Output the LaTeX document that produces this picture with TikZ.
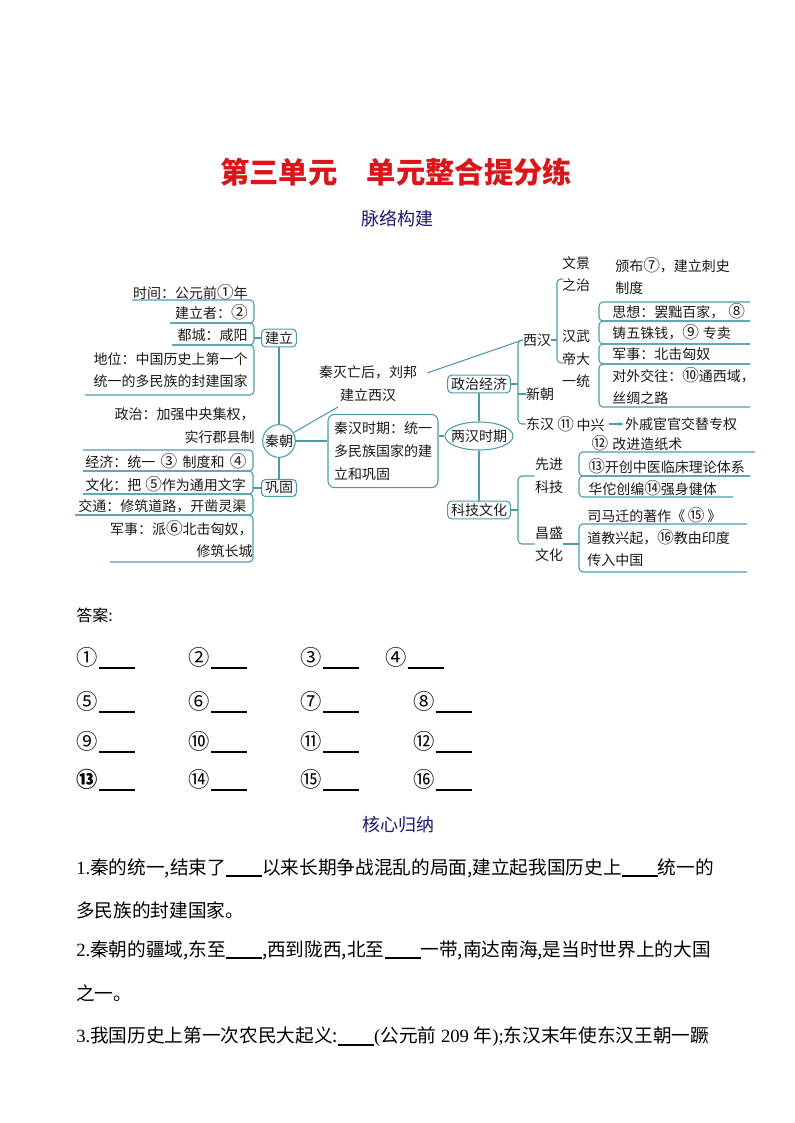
\documentclass[tikz,border=0pt]{standalone}
\usepackage{fontspec}
\setmainfont{Liberation Serif}
\newfontfamily\cjk{Noto Sans CJK SC}
\usetikzlibrary{shapes.geometric,arrows.meta,calc}
\definecolor{tealc}{RGB}{74,156,170}
\definecolor{titlered}{RGB}{218,22,26}
\definecolor{navyc}{RGB}{25,25,110}
\newcommand\mmf{\cjk\fontsize{10.5}{17}\selectfont}
\newcommand\bodyf{\cjk\fontsize{14}{18}\selectfont}
\newcommand\cn[1]{{\fontsize{12.5}{17}\selectfont #1}}
\newcommand\ca[1]{{\fontsize{16}{18}\selectfont #1}}
\newcommand\blank{\rule[-2pt]{27pt}{1pt}}
\newcommand\ansline{\hspace{1pt}\rule[-2.5pt]{27pt}{1.4pt}}
\begin{document}
\begin{tikzpicture}[x=0.75pt,y=-0.75pt,
  mm/.style={font=\mmf, inner sep=0pt, text=black!90},
  ln/.style={draw=tealc, line width=0.8pt},
  rc/.style={ln, rounded corners=3pt},
  bx/.style={mm, draw=tealc, line width=0.8pt, rounded corners=3pt, inner xsep=2.5pt, inner ysep=1.8pt, fill=white},
  ans/.style={font=\cjk\fontsize{12}{14}\selectfont, anchor=west, inner sep=0pt},
  body/.style={font=\bodyf, anchor=west, inner sep=0pt},
  head/.style={font=\cjk\fontsize{13.5}{16}\selectfont, text=navyc, inner sep=0pt},
]
\useasboundingbox (0,0) rectangle (794,1123);

% titles
\node[font=\cjk\bfseries\fontsize{22}{26}\selectfont, text=titlered, inner sep=0pt] (title) at (396,172) {第三单元\quad 单元整合提分练};
\node[head] (mlgj) at (397,219) {脉络构建};

% ---------- left top group ----------
\draw[rc] (132,300) -- (254,300) -- (254,323) -- (170,323);
\draw[rc] (170,323) -- (254,323) -- (254,345) -- (172,345);
\draw[rc] (172,345) -- (254,345) -- (254,395) -- (85,395);
\node[mm, anchor=east] (t1) at (248,292) {时间：公元前\cn{①}年};
\node[mm, anchor=east] (t2) at (248,312) {建立者：\cn{②}};
\node[mm, anchor=east] (t3) at (248,335) {都城：咸阳};
\node[mm, anchor=east, align=left] (t4) at (248,370) {地位：中国历史上第一个\\统一的多民族的封建国家};

% ---------- left bottom group ----------
\draw[rc] (83,450) -- (253,450) -- (253,471) -- (83,471);
\draw[rc] (83,471) -- (253,471) -- (253,494) -- (83,494);
\draw[rc] (83,494) -- (253,494) -- (253,515) -- (75,515);
\draw[rc] (75,515) -- (253,515) -- (253,562) -- (110,562);
\node[mm, anchor=east, align=right] (zz0) at (255,426) {政治：加强中央集权，\\实行郡县制\hspace{9pt}};
\node[mm, anchor=west] (e1) at (85,461) {经济：统一\hspace{4pt}\cn{③}\hspace{4pt}制度和\hspace{4pt}\cn{④}};
\node[mm, anchor=west] (e2) at (85,484) {文化：把\hspace{3pt}\cn{⑤}作为通用文字};
\node[mm, anchor=west] (e3) at (78,506) {交通：修筑道路，开凿灵渠};
\node[mm, anchor=east, align=right] (e4) at (253,539) {军事：派\cn{⑥}北击匈奴，\\修筑长城\hspace{8pt}};

% ---------- left spine ----------
\node[bx] (jl) at (279,338) {建立};
\node[mm, circle, draw=tealc, line width=0.8pt, minimum size=24.5pt, fill=white] (qc) at (279,441) {秦朝};
\node[bx] (gg) at (279,488) {巩固};
\draw[ln] (254,338) -- (jl.west);
\draw[ln] (253,488) -- (gg.west);
\draw[ln] (jl.south) -- (qc.north);
\draw[ln] (qc.south) -- (gg.north);

% label on Qin -> Xi Han
\node[mm, align=center] (lb) at (368,384) {秦灭亡后，刘邦\\建立西汉};
\coordinate (lbA) at (338,407);
\coordinate (lbB) at (427,373);
\draw[ln] (qc) -- (lbA);

% centre box
\node[bx, align=left, minimum width=82.5pt, minimum height=55pt, rounded corners=5pt] (qh) at (383,451) {秦汉时期：统一\\多民族国家的建\\立和巩固};
\draw[ln] (qc.east) -- (qc.east -| qh.west);

% ---------- two Han ----------
\node[mm, ellipse, draw=tealc, line width=0.8pt, minimum width=51pt, minimum height=21pt, fill=white] (lh) at (479,436) {\makebox[34pt]{两汉时期}};
\node[bx] (zj) at (479,384) {政治经济};
\node[bx] (kj) at (479,510) {科技文化};
\draw[ln] (qh.east |- lh.west) -- (lh.west);
\draw[ln] (zj.south) -- (lh.north);
\draw[ln] (lh.south) -- (kj.north);

% politics / economy branch
\node[mm] (xh) at (537,340) {西汉};
\node[mm] (xc) at (540,394) {新朝};
\node[mm] (dh) at (540,424) {东汉};
\draw[ln] (lbB) -- (xh.west);
\draw[rc] (xh.west) -- (518,340) -- (518,424) -- (dh.west);
\draw[ln] (zj.east) -- (518,384);
\draw[ln] (518,394) -- (xc.west);
\node[mm] (zx) at (581,424) {\cn{⑪}\hspace{2pt}中兴};
\node[mm] (wq) at (681,424) {外戚宦官交替专权};
\draw[tealc, line width=0.8pt, -{Stealth[length=3.5pt,width=3pt]}, shorten <=3pt, shorten >=1pt] (zx.east) -- (wq.west);

\node[mm, align=center] (wj) at (576,274) {文景\\之治};
\node[mm, align=center] (hw) at (576,359) {汉武\\帝大\\一统};
\draw[rc] (563,279) -- (557,279) -- (557,363) -- (563,363);
\draw[ln] (xh.east) -- (557,340);
\node[mm, anchor=west, align=left] (bb) at (615,276) {颁布\cn{⑦}，建立刺史\\制度};

\draw[rc] (750,302) -- (599,302) -- (599,321) -- (750,321);
\draw[rc] (750,321) -- (599,321) -- (599,344) -- (750,344);
\draw[rc] (750,344) -- (599,344) -- (599,364) -- (750,364);
\draw[rc] (750,364) -- (599,364) -- (599,407) -- (750,407);
\node[mm, anchor=west] (r1) at (612,311) {思想：罢黜百家，\hspace{3pt}\cn{⑧}};
\node[mm, anchor=west] (r2) at (612,332) {铸五铢钱，\cn{⑨}\hspace{3pt}专卖};
\node[mm, anchor=west] (r3) at (612,354) {军事：北击匈奴};
\node[mm, anchor=west, align=left] (r4) at (612,386) {对外交往：\cn{⑩}通西域，\\丝绸之路};

% science / culture branch
\node[mm, align=center] (xj) at (549,476) {先进\\科技};
\node[mm, align=center] (cs) at (549,544) {昌盛\\文化};
\draw[rc] (xj.west) -- (518,476) -- (518,544) -- (cs.west);
\draw[ln] (kj.east) -- (518,510);
\node[mm] (k0) at (637,443) {\cn{⑫}\hspace{3pt}改进造纸术};
\draw[rc] (755,452) -- (579,452) -- (579,476) -- (750,476);
\draw[rc] (750,476) -- (579,476) -- (579,497) -- (733,497);
\node[mm, anchor=west] (k1) at (588,466) {\cn{⑬}开创中医临床理论体系};
\node[mm, anchor=west] (k2) at (588,488) {华佗创编\cn{⑭}强身健体};
\node[mm, anchor=west] (k3) at (587,515) {司马迁的著作《\hspace{2pt}\cn{⑮}\hspace{2pt}》};
\draw[rc] (747,524) -- (579,524) -- (579,572) -- (747,572);
\draw[ln] (cs.east) -- (579,544);
\node[mm, anchor=west, align=left] (k4) at (587,548) {道教兴起，\cn{⑯}教由印度\\传入中国};

% ---------- answers ----------
\node[ans] (da) at (76,615) {答案:};
\node[ans] (a1) at (76,658) {\ca{①}\ansline};
\node[ans] (a2) at (188,658) {\ca{②}\ansline};
\node[ans] (a3) at (300,658) {\ca{③}\ansline};
\node[ans] (a4) at (385,658) {\ca{④}\ansline};
\node[ans] (a5) at (76,702) {\ca{⑤}\ansline};
\node[ans] (a6) at (188,702) {\ca{⑥}\ansline};
\node[ans] (a7) at (300,702) {\ca{⑦}\ansline};
\node[ans] (a8) at (413,702) {\ca{⑧}\ansline};
\node[ans] (a9) at (76,742) {\ca{⑨}\ansline};
\node[ans] (a10) at (188,742) {\ca{⑩}\ansline};
\node[ans] (a11) at (300,742) {\ca{⑪}\ansline};
\node[ans] (a12) at (413,742) {\ca{⑫}\ansline};
\node[ans] (a13) at (76,780) {\bfseries\ca{⑬}\ansline};
\node[ans] (a14) at (188,780) {\ca{⑭}\ansline};
\node[ans] (a15) at (300,780) {\ca{⑮}\ansline};
\node[ans] (a16) at (413,780) {\ca{⑯}\ansline};

% ---------- core summary ----------
\node[head] (hxgn) at (398,825) {核心归纳};
\node[body] (p1) at (76,868) {{\rmfamily 1.}秦的统一,结束了\blank 以来长期争战混乱的局面,建立起我国历史上\blank 统一的};
\node[body] (p1b) at (76,910) {多民族的封建国家。};
\node[body] (p2) at (76,950) {{\rmfamily 2.}秦朝的疆域,东至\blank,西到陇西,北至\blank 一带,南达南海,是当时世界上的大国};
\node[body] (p2b) at (76,993) {之一。};
\node[body] (p3) at (76,1037) {{\rmfamily 3.}我国历史上第一次农民大起义:\blank{\rmfamily (}公元前{\rmfamily\ 209\ }年{\rmfamily );}东汉末年使东汉王朝一蹶};
\end{tikzpicture}
\end{document}
